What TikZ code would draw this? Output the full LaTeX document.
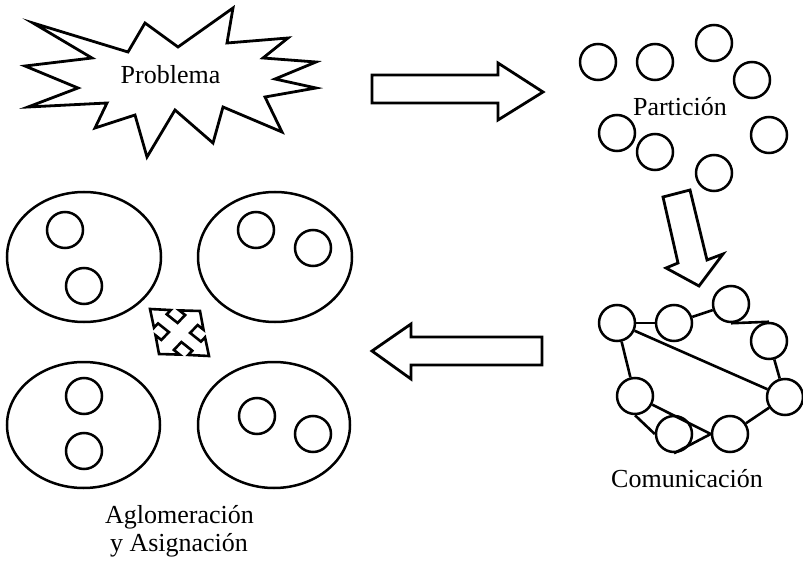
\documentclass[tikz,border=0pt]{standalone}
\usepackage{fontspec}
\setmainfont{Liberation Serif}
\usetikzlibrary{shapes.geometric}
\begin{document}
\begin{tikzpicture}[x=1pt,y=-1pt,
  thick line/.style={line width=2.8pt,line join=miter},
  circ/.style={circle,draw,line width=2.5pt,minimum size=36pt,inner sep=0pt},
  cluster/.style={ellipse,draw,line width=2.5pt,inner sep=0pt},
  lbl/.style={anchor=base,inner sep=0pt,font=\fontsize{26}{30}\selectfont},
  edge/.style={line width=2.6pt}]
\useasboundingbox (0,0) rectangle (803,561);
% Starburst
\draw[thick line] (33,23) -- (128,52) -- (145,23) -- (178,47) -- (233,8) -- (227,43)
  -- (288,38) -- (263,58) -- (316,62) -- (275,79) -- (316,88) -- (265,97) -- (282,132)
  -- (223,107) -- (213,143) -- (175,110) -- (147,157) -- (135,115) -- (95,128)
  -- (107,103) -- (28,107) -- (78,88) -- (25,66) -- (92,58) -- cycle;
\node[lbl] (prob) at (170.5,84) {Problema};
% Right arrow
\draw[thick line] (372,75) -- (498,75) -- (498,63) -- (543,92) -- (498,120)
  -- (498,103) -- (372,103) -- cycle;
% Partition
\node[circ] (p1) at (598,62) {};
\node[circ] (p2) at (655,62) {};
\node[circ] (p3) at (714,43) {};
\node[circ] (p4) at (752,80) {};
\node[circ] (p5) at (769,135) {};
\node[circ] (p6) at (617,133) {};
\node[circ] (p7) at (655,152) {};
\node[circ] (p8) at (714,173) {};
\node[lbl] (part) at (680,116) {Partición};
% Down arrow
\draw[thick line] (663,197) -- (690,190) -- (707,260) -- (723,254) -- (699,286)
  -- (666,268) -- (678,263) -- cycle;
% Communication
\node[circ] (c1) at (617,323) {};
\node[circ] (c2) at (674,323) {};
\node[circ] (c3) at (731,304) {};
\node[circ] (c4) at (769,341) {};
\node[circ] (c5) at (785,397) {};
\node[circ] (c6) at (730,434) {};
\node[circ] (c7) at (674,434) {};
\node[circ] (c8) at (635,396) {};
\draw[edge] (c1) -- (c2);
\draw[edge] (c2) -- (c3);
\draw[edge] (c3.south) -- (c4.north);
\draw[edge] (c4) -- (c5);
\draw[edge] (c5) -- (c6);
\draw[edge] (c1) -- (c5);
\draw[edge] (c1) -- (c8);
\draw[edge] (c8.south) -- (c7.west);
\draw[edge] (c8) -- (c6.west);
\draw[edge] (c7.south) -- (c6.west);
\node[lbl] (comm) at (687,487) {Comunicación};
% Left arrow
\draw[thick line] (372,351) -- (411,324) -- (411,337) -- (542,337) -- (542,365)
  -- (411,365) -- (411,379) -- cycle;
% Clusters
\node[cluster,minimum width=154pt,minimum height=130pt] (e1) at (84,257) {};
\node[cluster,minimum width=154pt,minimum height=130pt] (e2) at (275,257) {};
\node[cluster,minimum width=153pt,minimum height=126pt] (e3) at (83.5,425) {};
\node[cluster,minimum width=152pt,minimum height=126pt] (e4) at (274,425) {};
\node[circ] (a1) at (65,230) {};
\node[circ] (a2) at (84,286) {};
\node[circ] (b1) at (256,230) {};
\node[circ] (b2) at (313,248) {};
\node[circ] (d1) at (84,396) {};
\node[circ] (d2) at (84,451) {};
\node[circ] (f1) at (257,416) {};
\node[circ] (f2) at (313,434) {};
% Four-way arrow
\coordinate (ac) at (179.5,332.5);
\begin{scope}[shift={(ac)},x={(20.86pt,-16.62pt)},y={(-14.50pt,-15.20pt)}]
\draw[line width=2.6pt,line join=miter]
  (1.414,0) -- (0.82,0.58) -- (0.82,0.3) -- (0.3,0.3) -- (0.3,0.82) -- (0.58,0.82)
  -- (0,1.414) -- (-0.58,0.82) -- (-0.3,0.82) -- (-0.3,0.3) -- (-0.82,0.3) -- (-0.82,0.58)
  -- (-1.414,0) -- (-0.82,-0.58) -- (-0.82,-0.3) -- (-0.3,-0.3) -- (-0.3,-0.82) -- (-0.58,-0.82)
  -- (0,-1.414) -- (0.58,-0.82) -- (0.3,-0.82) -- (0.3,-0.3) -- (0.82,-0.3) -- (0.82,-0.58)
  -- cycle;
\end{scope}
\node[lbl] (aglo) at (179.5,523) {Aglomeración};
\node[lbl] (asig) at (179,551) {y Asignación};
\end{tikzpicture}
\end{document}
